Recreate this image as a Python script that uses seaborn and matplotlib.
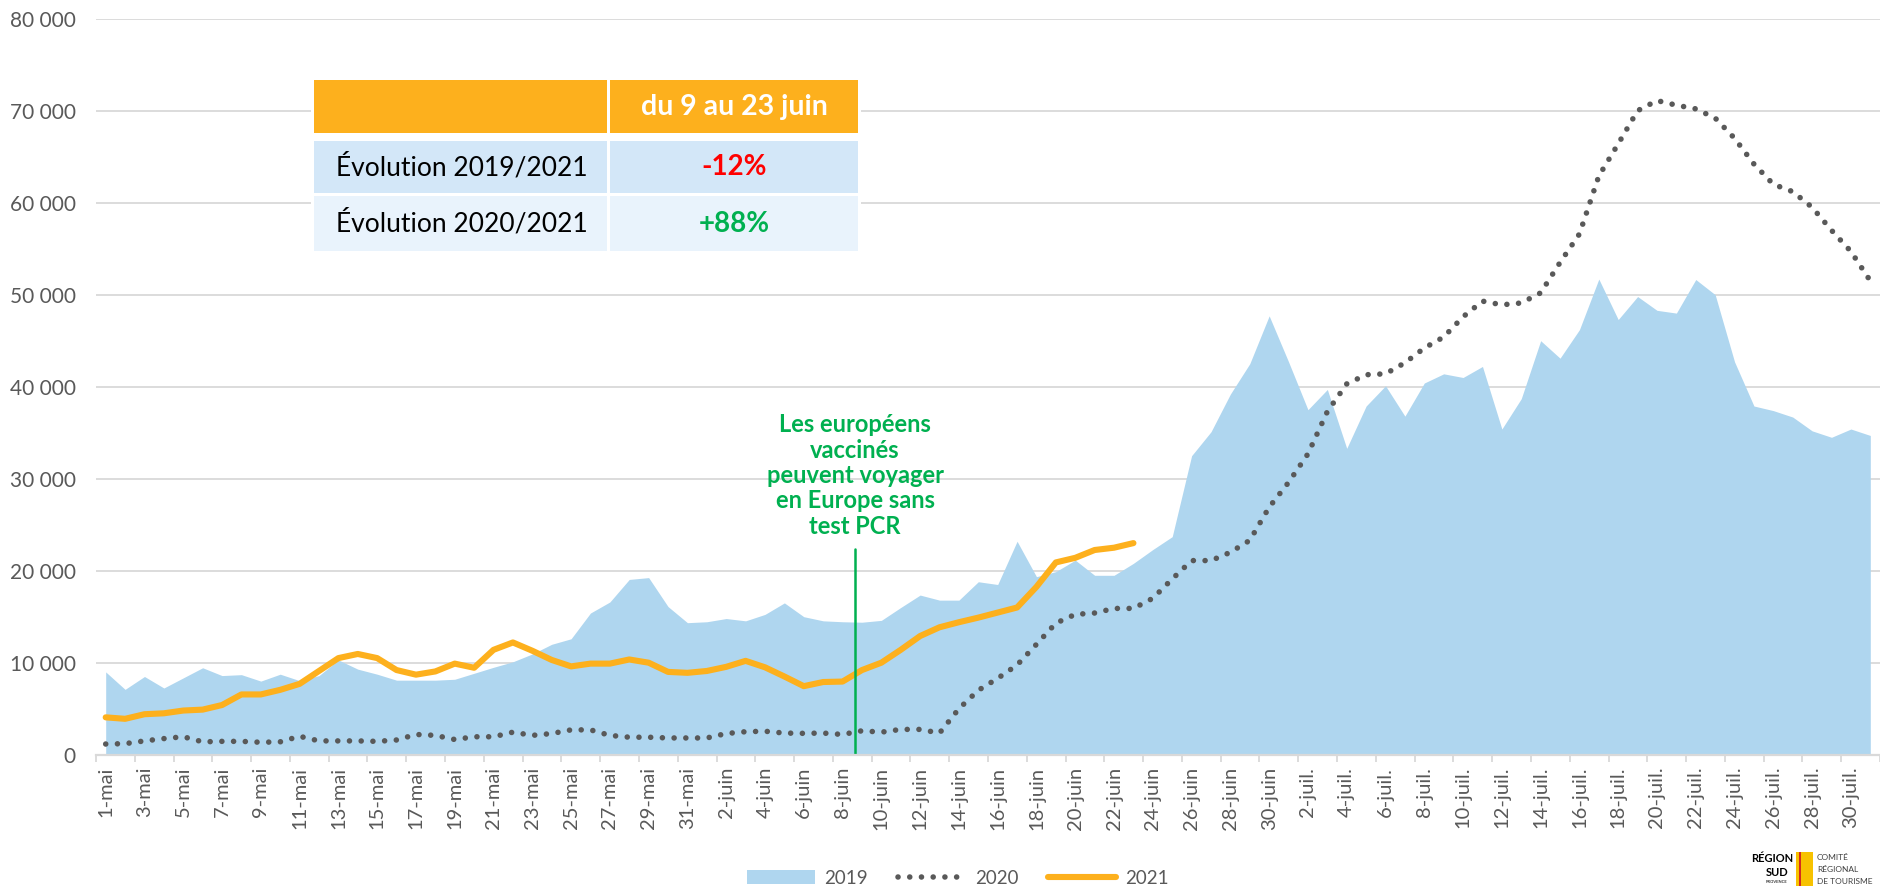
import matplotlib
matplotlib.use("Agg")
import matplotlib.pyplot as plt
import matplotlib.ticker as mticker
from matplotlib.patches import Rectangle, Patch
from matplotlib.lines import Line2D
import seaborn as sns
import numpy as np
import pandas as pd


W, H = 1880, 886

# one label per day, 1 May -> 31 July
day_labels = (
    [f"{d}-mai" for d in range(1, 32)]
    + [f"{d}-juin" for d in range(1, 31)]
    + [f"{d}-juil." for d in range(1, 32)]
)

visits_2019 = [
    9000, 7100, 8500, 7250, 8350, 9450, 8600, 8700, 8000, 8750,
    8050, 8600, 10300, 9300, 8750, 8100, 8100, 8100, 8200, 8850,
    9500, 10100, 10950, 12000, 12600, 15400, 16600, 19050, 19250, 16100,
    14350, 14450, 14800, 14550, 15250, 16500, 15000, 14550, 14450, 14400,
    14600, 16000, 17350, 16800, 16800, 18800, 18500, 23200, 19350, 19900,
    21150, 19500, 19500, 20800, 22300, 23700, 32500, 35100, 39200, 42500,
    47700, 42700, 37500, 39700, 33300, 37900, 40100, 36800, 40400, 41400,
    41000, 42200, 35400, 38700, 45000, 43100, 46200, 51700, 47300, 49800,
    48300, 48000, 51650, 50000, 42700, 37900, 37400, 36700, 35200, 34500,
    35400, 34700,
]

visits_2020 = [
    1160, 1200, 1500, 1750, 1950, 1400, 1450, 1450, 1350, 1400,
    2000, 1500, 1500, 1500, 1450, 1600, 2200, 2100, 1650, 1950,
    1950, 2450, 2100, 2300, 2700, 2700, 2100, 1900, 1900, 1820,
    1820, 1820, 2300, 2500, 2550, 2350, 2320, 2350, 2200, 2600,
    2450, 2750, 2750, 2350, 5000, 7000, 8300, 9750, 12000, 14300,
    15250, 15400, 15900, 15900, 17000, 19100, 21100, 21100, 22000, 23300,
    26900, 29600, 32700, 37300, 40300, 41300, 41400, 42600, 44200, 45400,
    47600, 49300, 48900, 49100, 50200, 53500, 56600, 62900, 66400, 70000,
    71100, 70600, 70200, 69200, 67000, 64200, 62000, 61200, 59500, 57000,
    54700, 51500,
]

# 2021 runs from 1 May to 23 June
visits_2021 = [
    4060, 3900, 4400, 4500, 4800, 4900, 5400, 6550, 6550, 7050,
    7700, 9100, 10500, 10950, 10500, 9200, 8700, 9050, 9900, 9450,
    11400, 12200, 11300, 10300, 9600, 9900, 9900, 10350, 10000, 9000,
    8900, 9100, 9550, 10200, 9500, 8500, 7450, 7900, 7950, 9200,
    10000, 11400, 12900, 13850, 14400, 14900, 15450, 16000, 18250, 20900,
    21400, 22250, 22500, 23000,
]

table_header = "du 9 au 23 juin"
table_rows = ["Évolution 2019/2021", "Évolution 2020/2021"]
table_values = ["-12%", "+88%"]
table_value_colors = ["#FF0000", "#00B050"]

annotation_text = "Les européens\nvaccinés\npeuvent voyager\nen Europe sans\ntest PCR"
annotation_day = 38.65
annotation_top = 22400

BLUE = "#AFD6EF"
GREY_DOTS = "#595959"
ORANGE = "#FDB01D"
GREEN = "#00B050"
GRID = "#D9D9D9"
TEXT = "#595959"
DOTS = (0, (0.01, 2.1))


def px(x, y):
    return x / W, 1 - y / H


def main():
    sns.set_theme(style="white")
    plt.rcParams["font.family"] = ["Lato", "DejaVu Sans"]

    df = pd.DataFrame(
        {
            "day": np.arange(len(day_labels)),
            "label": day_labels,
            "v2019": visits_2019,
            "v2020": visits_2020,
        }
    )
    df21 = pd.DataFrame({"day": np.arange(len(visits_2021)), "v2021": visits_2021})

    fig = plt.figure(figsize=(W / 100, H / 100), dpi=100)
    ax = fig.add_axes([96 / W, 1 - 754.7 / H, (W - 96) / W, (754.7 - 18.7) / H])

    ax.fill_between(df["day"], 0, df["v2019"], color=BLUE, linewidth=0, zorder=2)

    sns.lineplot(
        data=df, x="day", y="v2020", ax=ax, color=GREY_DOTS, linewidth=4.0,
        linestyle=DOTS, dash_capstyle="round", sort=False,
        errorbar=None, zorder=3,
    )
    sns.lineplot(
        data=df21, x="day", y="v2021", ax=ax, color=ORANGE, linewidth=4.4,
        solid_capstyle="round", solid_joinstyle="round", sort=False,
        errorbar=None, zorder=4,
    )

    ax.plot([annotation_day, annotation_day], [0, annotation_top], color=GREEN,
            linewidth=1.8, zorder=5)
    ax.text(annotation_day, 30350, annotation_text, ha="center", va="center",
            color=GREEN, fontsize=17, fontweight="bold", linespacing=1.12, zorder=6)

    ax.set_xlim(-0.5, 91.28)
    ax.set_ylim(0, 80000)
    ax.set_yticks(np.arange(0, 80001, 10000))
    ax.yaxis.set_major_formatter(
        mticker.FuncFormatter(lambda v, _: f"{int(v):,}".replace(",", " "))
    )
    ax.grid(axis="y", color=GRID, linewidth=1.3, zorder=0)
    ax.set_axisbelow(True)

    ax.set_xticks(df["day"][::2])
    ax.set_xticklabels(df["label"][::2], rotation=90, ha="center", va="top")
    ax.set_xticks(np.arange(-0.5, 92, 2), minor=True)
    ax.tick_params(axis="x", which="major", length=0, pad=8.6, labelsize=14.5,
                   labelcolor=TEXT)
    ax.tick_params(axis="x", which="minor", length=5, width=1.3, color=GRID,
                   direction="out", bottom=True)
    ax.tick_params(axis="y", length=0, pad=14.4, labelsize=15, labelcolor=TEXT)

    for side in ["top", "right", "left"]:
        ax.spines[side].set_visible(False)
    ax.spines["bottom"].set_color(GRID)
    ax.spines["bottom"].set_linewidth(1.6)
    ax.spines["bottom"].set_zorder(7)

    ax.set_xlabel("")
    ax.set_ylabel("")

    # summary table drawn over the grid
    def box(x0, y0, x1, y1, color, z=2):
        fig.add_artist(Rectangle(px(x0, y1), (x1 - x0) / W, (y1 - y0) / H,
                                 transform=fig.transFigure, facecolor=color,
                                 edgecolor="none", zorder=z))

    box(311, 77, 861, 254, "white", z=1)
    box(314, 80, 607, 133, ORANGE)
    box(610, 80, 858, 133, ORANGE)
    row_tops = [141, 196]
    row_bottoms = [193, 251]
    row_colors = ["#D3E7F8", "#E9F3FC"]
    for k in range(2):
        box(314, row_tops[k], 607, row_bottoms[k], row_colors[k])
        box(610, row_tops[k], 858, row_bottoms[k], row_colors[k])

    fig.text(*px(734, 107), table_header, ha="center", va="center",
             color="white", fontsize=20.5, fontweight="bold", zorder=3)
    for k in range(2):
        yc = (row_tops[k] + row_bottoms[k]) / 2
        fig.text(*px(336, yc), table_rows[k], ha="left", va="center",
                 color="black", fontsize=19, zorder=3)
        fig.text(*px(734, yc), table_values[k], ha="center", va="center",
                 color=table_value_colors[k], fontsize=20, fontweight="bold",
                 zorder=3)

    handles = [
        Patch(facecolor=BLUE, edgecolor="none"),
        Line2D([], [], color=GREY_DOTS, linewidth=4.0, linestyle=DOTS,
               dash_capstyle="round"),
        Line2D([], [], color=ORANGE, linewidth=4.4, solid_capstyle="round"),
    ]
    fig.legend(handles, ["2019", "2020", "2021"], loc="center",
               bbox_to_anchor=px(958, 878), ncol=3, frameon=False,
               fontsize=13.5, labelcolor=TEXT, handlelength=3.6,
               handletextpad=0.5, columnspacing=1.6)

    # logo block, bottom right
    lx = 1772
    fig.text(*px(lx, 858), "RÉGION", ha="center", va="center", fontsize=8,
             fontweight="bold", color="black")
    fig.text(*px(lx + 5, 872), "SUD", ha="center", va="center", fontsize=8,
             fontweight="bold", color="black")
    fig.text(*px(lx + 5, 882), "PROVENCE", ha="center", va="center", fontsize=3,
             color="black")
    for k, c in enumerate(["#F7C200", "#D52B1E"] * 3):
        box(lx + 24 + k * 2.5, 852, lx + 26.5 + k * 2.5, 886, c, z=2)
    box(lx + 32, 852, lx + 41, 886, "#F7C200", z=2)
    for k, word in enumerate(["COMITÉ", "RÉGIONAL", "DE TOURISME"]):
        fig.text(*px(lx + 45, 857 + 12 * k), word, ha="left", va="center",
                 fontsize=6, color="#404040")

    fig.savefig("out.png", dpi=100)
    plt.close(fig)


if __name__ == "__main__":
    main()
